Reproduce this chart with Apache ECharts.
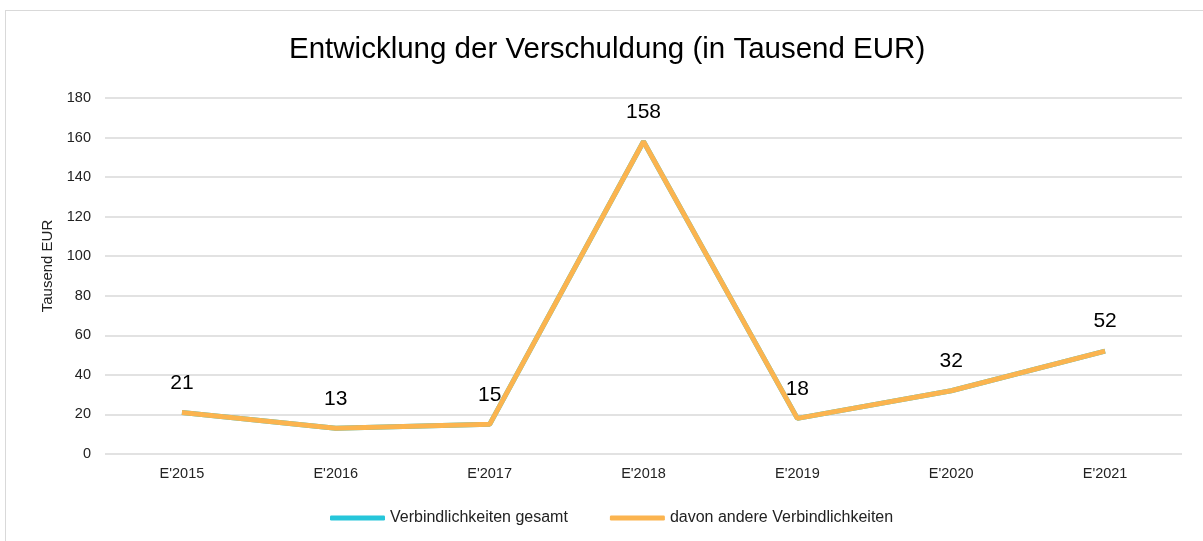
<meta charset="utf-8" />
<style>
html, body { margin: 0; padding: 0; background: #fff; }
#frame {
  position: absolute;
  left: 5px;
  top: 10px;
  width: 1210px;
  height: 540px;
  border-left: 1px solid #d9d9d9;
  border-top: 1px solid #d9d9d9;
}
#chart {
  position: absolute;
  left: 0;
  top: 0;
  width: 1203px;
  height: 541px;
}
</style>
<script src="https://cdn.jsdelivr.net/npm/echarts@6.0.0/dist/echarts.min.js"></script>
<div id="frame"></div>
<div id="chart"></div>
<script>
const categories = ["E'2015", "E'2016", "E'2017", "E'2018", "E'2019", "E'2020", "E'2021"];
const gesamt = [21, 13, 15, 158, 18, 32, 52];
const andere = [21, 13, 15, 158, 18, 32, 52];
const yTicks = { min: 0, max: 180, interval: 20 };

const font = 'Arial, "Liberation Sans", sans-serif';
const chart = echarts.init(document.getElementById('chart'));
chart.setOption({
  animation: false,
  textStyle: { fontFamily: font },
  title: {
    text: 'Entwicklung der Verschuldung (in Tausend EUR)',
    left: 284,
    top: 30,
    textStyle: { fontFamily: font, fontSize: 29.5, fontWeight: 'normal', color: '#000' }
  },
  grid: { left: 105, right: 21, top: 98, bottom: 87 },
  legend: {
    left: 325,
    bottom: 10,
    itemWidth: 55,
    itemHeight: 5,
    itemGap: 42,
    textStyle: { fontFamily: font, fontSize: 16, color: '#222' },
    data: [
      { name: 'Verbindlichkeiten gesamt', icon: 'roundRect' },
      { name: 'davon andere Verbindlichkeiten', icon: 'roundRect' }
    ]
  },
  xAxis: {
    type: 'category',
    data: categories,
    axisLine: { show: false },
    axisTick: { show: false },
    axisLabel: { fontFamily: font, fontSize: 14.5, color: '#222', margin: 12 }
  },
  yAxis: {
    type: 'value',
    min: yTicks.min,
    max: yTicks.max,
    interval: yTicks.interval,
    name: 'Tausend EUR',
    nameLocation: 'middle',
    nameGap: 50,
    nameTextStyle: { fontFamily: font, fontSize: 15, color: '#222', padding: [0, 0, 0, 20] },
    axisLine: { show: false },
    axisTick: { show: false },
    axisLabel: { fontFamily: font, fontSize: 14.5, color: '#222', margin: 14 },
    splitLine: { lineStyle: { color: '#d9d9d9', width: 1.5 } }
  },
  series: [
    {
      name: 'Verbindlichkeiten gesamt',
      type: 'line',
      data: gesamt,
      symbol: 'none',
      color: '#26c6da',
      lineStyle: { width: 5, color: '#26c6da' }
    },
    {
      name: 'davon andere Verbindlichkeiten',
      type: 'line',
      data: andere,
      symbol: 'circle',
      symbolSize: 0.1,
      showSymbol: true,
      color: '#fbb44f',
      itemStyle: { color: '#fbb44f' },
      lineStyle: { width: 5, color: '#fbb44f' },
      label: {
        show: true,
        position: 'top',
        distance: 19,
        fontFamily: font,
        fontSize: 21,
        color: '#000',
        opacity: 1
      }
    }
  ]
});
</script>
